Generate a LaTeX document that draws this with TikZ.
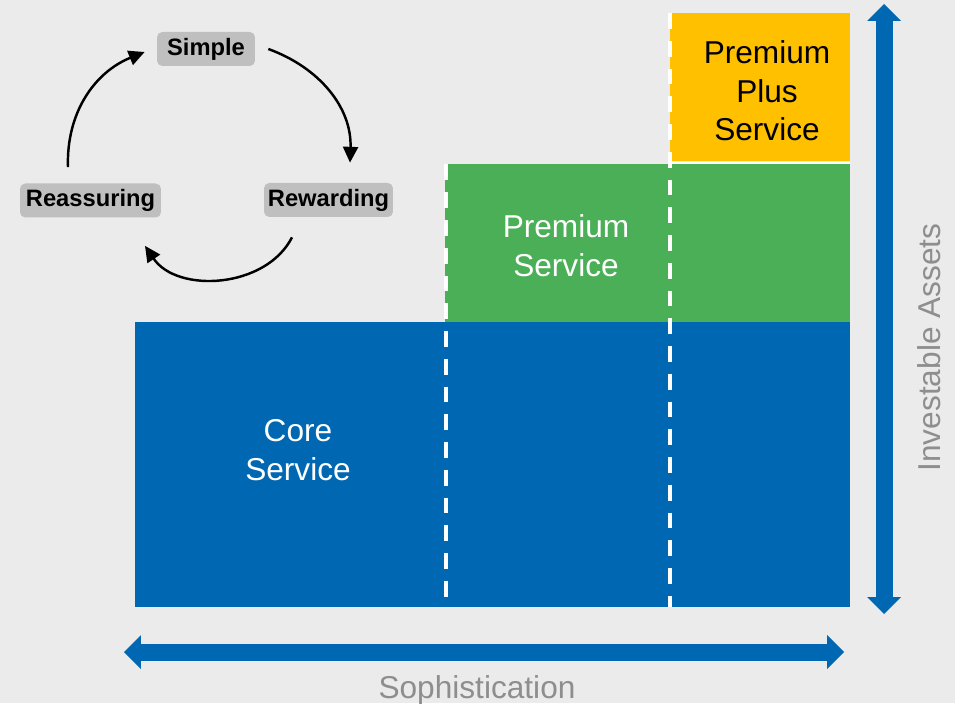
\documentclass[tikz,border=0pt]{standalone}
\usepackage{fontspec}
\setmainfont{Liberation Sans}
\usetikzlibrary{arrows.meta, calc}
\definecolor{cBG}{HTML}{EBEBEB}
\definecolor{cCORE}{HTML}{0068B3}
\definecolor{cPREM}{HTML}{4BAF57}
\definecolor{cPLUS}{HTML}{FFC000}
\definecolor{cAXIS}{HTML}{8E8E8E}
\definecolor{cTAG}{HTML}{BFBFBF}
\tikzset{
  tierlabel/.style={
    align=center,
    inner sep=0pt,
    font=\fontsize{18}{22}\selectfont
  },
  axislabel/.style={
    text=cAXIS,
    inner sep=0pt,
    font=\fontsize{18}{22}\selectfont
  },
  splitline/.style={
    draw=white,
    line width=1.8pt,
    dash pattern=on 9pt off 6.8pt
  },
  bigarrow/.style={
    {Triangle[length=3.4mm, width=6.8mm, line width=0pt]}-{Triangle[length=3.4mm, width=6.8mm, line width=0pt]},
    draw=cCORE,
    line width=3.4mm
  },
  tagbox/.style={
    fill=cTAG,
    rounded corners=3pt,
    inner xsep=2pt,
    minimum height=0.68cm,
    font=\fontsize{13.5}{16}\selectfont\bfseries
  },
  cycle/.style={
    -{Triangle[length=9pt, width=8.5pt]},
    line width=1.4pt,
    draw=black
  }
}

\begin{document}
\begin{tikzpicture}[x=0.02cm, y=0.02cm]
  % background
  \fill[cBG] (0,0) rectangle (955,703);
  \useasboundingbox (0,0) rectangle (955,703);

  % service tiers
  \fill[cCORE] (135,96) rectangle (850,381);
  \fill[cPREM] (445,381) rectangle (850,538.5);
  \fill[cPLUS] (670,541.5) rectangle (850,690);
  \draw[white, line width=1.5pt] (670,540) -- (850,540);
  \draw[splitline] (446,538.5) -- (446,96);
  \draw[splitline] (670,690) -- (670,96);

  \node[tierlabel, text=white] (core) at (298,253) {Core\\Service};
  \node[tierlabel, text=white] (prem) at (566,457.5) {Premium\\Service};
  \node[tierlabel, text=black] (plus) at (767,612) {Premium\\Plus\\Service};

  % axes
  \coordinate (ybot) at (884,89);
  \coordinate (ytop) at (884,699);
  \coordinate (xleft) at (124,51);
  \coordinate (xright) at (844,51);
  \draw[bigarrow] (ybot) -- (ytop);
  \draw[bigarrow] (xleft) -- (xright);
  \node[axislabel, rotate=90, anchor=base] (assets) at (940,355.5) {Investable Assets};
  \node[axislabel, anchor=base] (soph) at (477,5) {Sophistication};

  % the three promises
  \node[tagbox, minimum width=1.96cm] (simple) at (206,654) {Simple};
  \node[tagbox, minimum width=2.82cm] (reass) at (90.5,502.5) {Reassuring};
  \node[tagbox, minimum width=2.58cm] (rew) at (328.5,503) {Rewarding};

  \draw[cycle] ([shift={(-22.5,16)}]reass.north) to[out=92, in=202] ([shift={(-12,-3)}]simple.west);
  \draw[cycle] ([shift={(13,0)}]simple.east) to[out=-20, in=88] ([shift={(21.5,20)}]rew.north);
  \draw[cycle] ([shift={(-36.5,-20)}]rew.south) to[out=243, in=-56] ([shift={(54.5,-28)}]reass.south);
\end{tikzpicture}
\end{document}
